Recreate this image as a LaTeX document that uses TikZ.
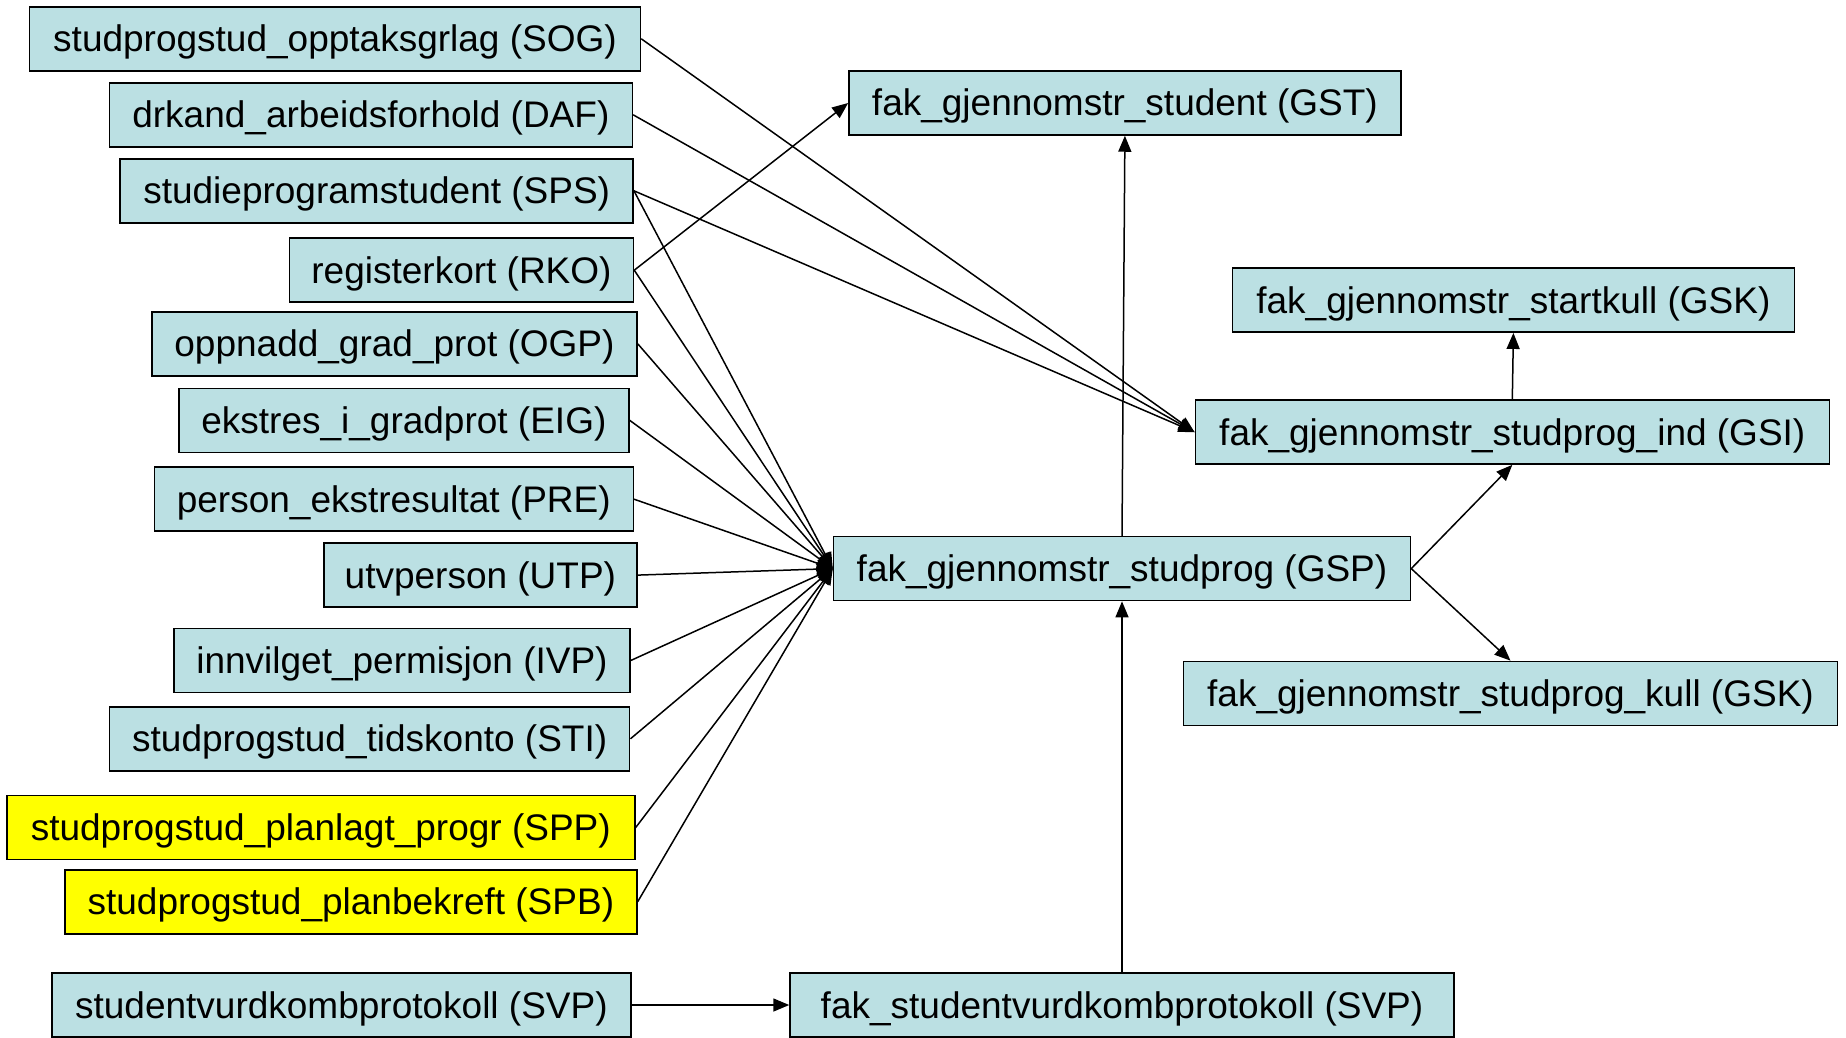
\documentclass[tikz,border=0pt]{standalone}
\usepackage{fontspec}
\setmainfont{Liberation Sans}
\usetikzlibrary{arrows.meta}

\definecolor{tblblue}{HTML}{BBE0E3}
\definecolor{planyellow}{HTML}{FFFF00}

\tikzset{
  tbl/.style={draw=black, line width=1.5pt, fill=tblblue, inner sep=0pt,
    minimum height=64pt, text height=32pt, text depth=6pt,
    font=\fontsize{37}{44}\selectfont},
  plan/.style={tbl, fill=planyellow},
  >={Triangle[length=16pt,width=13pt]}
}

\begin{document}
\begin{tikzpicture}[x=1pt,y=-1pt]
      % \draw[help lines](0,0) grid (1846,1038);

      % Bounding box
      \path[use as bounding box] (0,0) rectangle (1846,1038);

      % source tables
      \draw (335,38.8) node[tbl,minimum width=611pt] (sog) {studprogstud\_opptaksgrlag (SOG)};
      \draw (370.9,114.8) node[tbl,minimum width=523pt] (daf) {drkand\_arbeidsforhold (DAF)};
      \draw (376.7,190.8) node[tbl,minimum width=513pt] (sps) {studieprogramstudent (SPS)};
      \draw (461.5,270.2) node[tbl,minimum width=344pt] (rko) {registerkort (RKO)};
      \draw (394.5,343.8) node[tbl,minimum width=485pt] (ogp) {oppnadd\_grad\_prot (OGP)};
      \draw (403.9,420.3) node[tbl,minimum width=450pt] (eig) {ekstres\_i\_gradprot (EIG)};
      \draw (393.8,499.2) node[tbl,minimum width=479pt] (pre) {person\_ekstresultat (PRE)};
      \draw (480.4,575.1) node[tbl,minimum width=313pt] (utp) {utvperson (UTP)};
      \draw (402,660.5) node[tbl,minimum width=456pt] (ivp) {innvilget\_permisjon (IVP)};
      \draw (369.7,738.8) node[tbl,minimum width=520pt] (sti) {studprogstud\_tidskonto (STI)};
      \draw (320.8,827.7) node[plan,minimum width=628pt] (spp) {studprogstud\_planlagt\_progr (SPP)};
      \draw (350.9,901.8) node[plan,minimum width=572pt] (spb) {studprogstud\_planbekreft (SPB)};
      \draw (341.4,1005) node[tbl,minimum width=579pt] (svp) {studentvurdkombprotokoll (SVP)};

      % fak tables
      \draw (1124.9,103) node[tbl,minimum width=552pt] (gst) {fak\_gjennomstr\_student (GST)};
      \draw (1513.4,300.2) node[tbl,minimum width=562pt] (gsks) {fak\_gjennomstr\_startkull (GSK)};
      \draw (1512.3,432.1) node[tbl,minimum width=634pt] (gsi) {fak\_gjennomstr\_studprog\_ind (GSI)};
      \draw (1122,568.6) node[tbl,minimum width=577pt] (gsp) {fak\_gjennomstr\_studprog (GSP)};
      \draw (1510.5,693.4) node[tbl,minimum width=654pt] (gskk) {fak\_gjennomstr\_studprog\_kull (GSK)};
      \draw (1122,1005) node[tbl,minimum width=664pt] (fsvp) {fak\_studentvurdkombprotokoll (SVP)};

      \begin{scope}[line width=1.5pt]
      \draw [->] (sog.east) -- (gsi.west);
      \draw [->] (daf.east) -- (gsi.west);
      \draw [->] (sps.east) -- (gsi.west);
      \draw [->] (rko.east) -- (gst.west);
      \foreach \src in {sps,rko,ogp,eig,pre,utp,ivp,sti,spp,spb}
        \draw [->] (\src.east) -- (gsp.west);
      \draw [->] (gsp.north) -- (gst.south);
      \draw [->] (gsi.north) -- (gsks.south);
      \draw [->] (gsp.east) -- (gsi.south);
      \draw [->] (gsp.east) -- (gskk.north);
      \draw [->] (svp.east) -- (fsvp.west);
      \draw [->] (fsvp.north) -- (gsp.south);
      \end{scope}
\end{tikzpicture}
\end{document}
